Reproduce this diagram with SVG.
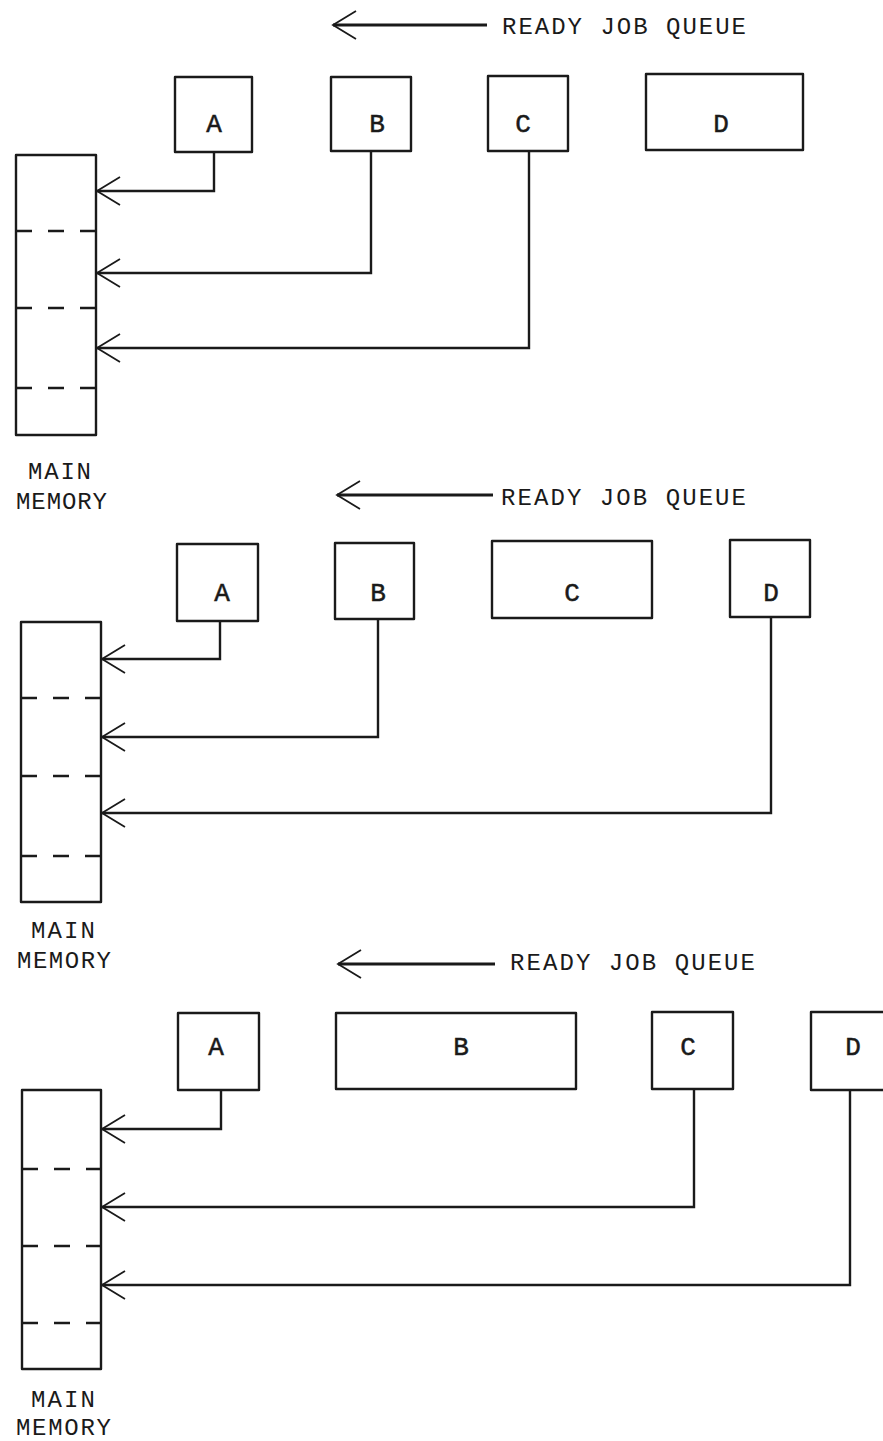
<svg xmlns="http://www.w3.org/2000/svg" width="883" height="1441" viewBox="0 0 883 1441">
<style>
.box{fill:none;stroke:#1a1a1a;stroke-width:2.4;stroke-linejoin:round}
.mem{fill:none;stroke:#1a1a1a;stroke-width:2.4;stroke-linejoin:round}
.dash{fill:none;stroke:#1a1a1a;stroke-width:2.6;stroke-dasharray:16 16}
.con{fill:none;stroke:#1a1a1a;stroke-width:2.4;stroke-linejoin:miter}
.q{fill:none;stroke:#1a1a1a;stroke-width:2.8}
.lbl{font-family:"Liberation Mono","DejaVu Sans Mono",monospace;font-size:26px;fill:#1a1a1a;stroke:#1a1a1a;stroke-width:0.5;text-anchor:middle}
.txt{font-family:"Liberation Mono","DejaVu Sans Mono",monospace;font-size:24px;fill:#1a1a1a}
</style>
<defs>
<marker id="ah" markerUnits="userSpaceOnUse" markerWidth="30" markerHeight="32" refX="0" refY="0" orient="auto" overflow="visible">
<path d="M23,-14 L0,0 L23,14" transform="scale(-1,1)" fill="none" stroke="#1a1a1a" stroke-width="1.8"/>
</marker>
</defs>

<!-- Panel 1 -->
<g id="p1-queue">
<path class="q" d="M487,25 H333" marker-end="url(#ah)"/>
<text class="txt" x="502" y="34" textLength="244" lengthAdjust="spacing">READY JOB QUEUE</text>
</g>
<g id="p1-A"><rect class="box" x="175" y="77" width="77" height="75"/><text class="lbl" x="214" y="132">A</text></g>
<g id="p1-B"><rect class="box" x="331" y="77" width="80" height="74"/><text class="lbl" x="377" y="132">B</text></g>
<g id="p1-C"><rect class="box" x="488" y="76" width="80" height="75"/><text class="lbl" x="523" y="132">C</text></g>
<g id="p1-D"><rect class="box" x="646" y="74" width="157" height="76"/><text class="lbl" x="721" y="132">D</text></g>
<g id="p1-memory">
<rect class="mem" x="16" y="155" width="80" height="280"/>
<path class="dash" d="M16,231 H96 M16,308 H96 M16,388 H96"/>
<text class="txt" x="28" y="479" textLength="63" lengthAdjust="spacing">MAIN</text>
<text class="txt" x="16" y="509" textLength="91" lengthAdjust="spacing">MEMORY</text>
</g>
<g id="p1-connectors">
<path class="con" d="M214,152 V191 H97" marker-end="url(#ah)"/>
<path class="con" d="M371,151 V273 H97" marker-end="url(#ah)"/>
<path class="con" d="M529,151 V348 H97" marker-end="url(#ah)"/>
</g>

<!-- Panel 2 -->
<g id="p2-queue">
<path class="q" d="M493,495 H337" marker-end="url(#ah)"/>
<text class="txt" x="501" y="505" textLength="245" lengthAdjust="spacing">READY JOB QUEUE</text>
</g>
<g id="p2-A"><rect class="box" x="177" y="544" width="81" height="77"/><text class="lbl" x="222" y="601">A</text></g>
<g id="p2-B"><rect class="box" x="335" y="543" width="79" height="76"/><text class="lbl" x="378" y="601">B</text></g>
<g id="p2-C"><rect class="box" x="492" y="541" width="160" height="77"/><text class="lbl" x="572" y="601">C</text></g>
<g id="p2-D"><rect class="box" x="730" y="540" width="80" height="77"/><text class="lbl" x="771" y="601">D</text></g>
<g id="p2-memory">
<rect class="mem" x="21" y="622" width="80" height="280"/>
<path class="dash" d="M21,698 H101 M21,776 H101 M21,856 H101"/>
<text class="txt" x="31" y="938" textLength="64" lengthAdjust="spacing">MAIN</text>
<text class="txt" x="17" y="968" textLength="94" lengthAdjust="spacing">MEMORY</text>
</g>
<g id="p2-connectors">
<path class="con" d="M220,621 V659 H102" marker-end="url(#ah)"/>
<path class="con" d="M378,619 V737 H102" marker-end="url(#ah)"/>
<path class="con" d="M771,617 V813 H102" marker-end="url(#ah)"/>
</g>

<!-- Panel 3 -->
<g id="p3-queue">
<path class="q" d="M495,964 H338" marker-end="url(#ah)"/>
<text class="txt" x="510" y="970" textLength="245" lengthAdjust="spacing">READY JOB QUEUE</text>
</g>
<g id="p3-A"><rect class="box" x="178" y="1013" width="81" height="77"/><text class="lbl" x="216" y="1055">A</text></g>
<g id="p3-B"><rect class="box" x="336" y="1013" width="240" height="76"/><text class="lbl" x="461" y="1055">B</text></g>
<g id="p3-C"><rect class="box" x="652" y="1012" width="81" height="77"/><text class="lbl" x="688" y="1055">C</text></g>
<g id="p3-D"><rect class="box" x="811" y="1012" width="90" height="78"/><text class="lbl" x="853" y="1055">D</text></g>
<g id="p3-memory">
<rect class="mem" x="22" y="1090" width="79" height="279"/>
<path class="dash" d="M22,1169 H101 M22,1246 H101 M22,1323 H101"/>
<text class="txt" x="31" y="1407" textLength="64" lengthAdjust="spacing">MAIN</text>
<text class="txt" x="16" y="1435" textLength="95" lengthAdjust="spacing">MEMORY</text>
</g>
<g id="p3-connectors">
<path class="con" d="M221,1090 V1129 H102" marker-end="url(#ah)"/>
<path class="con" d="M694,1089 V1207 H102" marker-end="url(#ah)"/>
<path class="con" d="M850,1090 V1285 H102" marker-end="url(#ah)"/>
</g>
</svg>
